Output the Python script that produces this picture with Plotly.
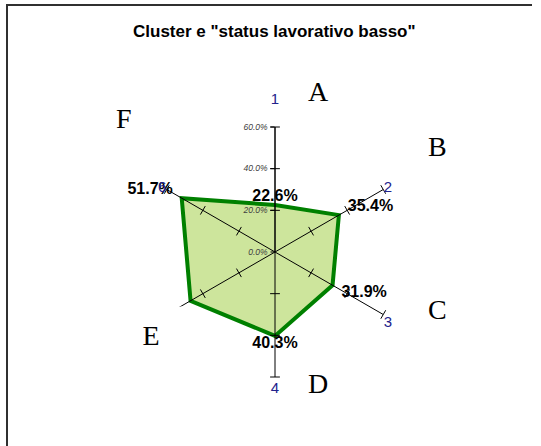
import plotly.graph_objects as go

# ---- data ----
categories = ["1", "2", "3", "4", "5", "6"]
axis_labels = ["1<br> ", "2", "3", "4", "", "6"]
values = [0.226, 0.354, 0.319, 0.403, 0.468, 0.517]
value_labels = ["22.6%", "\u00a0\u00a035.4%", "\u00a0\u00a031.9%", "40.3%", "", "51.7%\u00a0\u00a0"]
label_positions = ["top center", "top right", "bottom right", "bottom center", "middle left", "top left"]
radial_ticks = [0.0, 0.2, 0.4, 0.6]
letters = ["A", "B", "C", "D", "F"]
letter_px = [(318, 91), (437, 146), (437, 309), (318, 383), (124, 118)]
title_text = 'Cluster e "status lavorativo basso"'

W, H = 541, 446
r_max = radial_ticks[-1]

fig = go.Figure()

# filled polygon
fig.add_trace(go.Scatterpolar(
    r=values + values[:1],
    theta=categories + categories[:1],
    mode="lines",
    fill="toself",
    fillcolor="#CDE59C",
    line=dict(color="#008000", width=4),
    hoverinfo="skip",
    showlegend=False,
))

# spokes drawn above the fill
spoke_r, spoke_t = [], []
for c in categories:
    spoke_r += [0, r_max, None]
    spoke_t += [c, c, None]
fig.add_trace(go.Scatterpolar(
    r=spoke_r, theta=spoke_t, mode="lines",
    line=dict(color="black", width=1),
    hoverinfo="skip", showlegend=False, connectgaps=False,
))

# tick marks on spokes
tick_r, tick_t, tick_a = [], [], []
for i, c in enumerate(categories):
    for rv in radial_ticks[1:]:
        tick_r.append(rv)
        tick_t.append(c)
        tick_a.append(i * 60)
fig.add_trace(go.Scatterpolar(
    r=tick_r, theta=tick_t, mode="markers",
    marker=dict(symbol="line-ew", size=7, angle=tick_a,
                line=dict(color="black", width=1)),
    hoverinfo="skip", showlegend=False,
))

# data labels
fig.add_trace(go.Scatterpolar(
    r=values, theta=categories, mode="text",
    text=value_labels, textposition=label_positions,
    textfont=dict(family="Liberation Sans, Arial", size=16, color="black", weight="bold"),
    hoverinfo="skip", showlegend=False,
))

fig.update_layout(
    width=W, height=H,
    margin=dict(l=0, r=0, t=0, b=0),
    paper_bgcolor="white",
    plot_bgcolor="white",
    showlegend=False,
    polar=dict(
        domain=dict(x=[150 / W, 400 / W], y=[69 / H, 319 / H]),
        bgcolor="rgba(0,0,0,0)",
        radialaxis=dict(
            range=[0, r_max], tickvals=radial_ticks, tickformat=".1%",
            angle=90, tickangle=90, showline=True, linecolor="black", linewidth=1,
            showgrid=False, ticks="outside", ticklen=4, tickcolor="black",
            tickfont=dict(family="Liberation Sans, Arial", size=8.5, color="#404040", style="italic"),
            side="counterclockwise", layer="above traces",
        ),
        angularaxis=dict(
            type="category", categoryarray=categories,
            rotation=90, direction="clockwise",
            tickmode="array", tickvals=categories, ticktext=axis_labels,
            showline=False, showgrid=False,
            ticks="", layer="above traces",
            tickfont=dict(family="Liberation Sans, Arial", size=15, color="#22228C"),
        ),
    ),
)

# title
fig.add_annotation(
    x=274 / W, y=1 - 32 / H, xref="paper", yref="paper",
    text=title_text, showarrow=False, xanchor="center", yanchor="middle",
    font=dict(family="Liberation Sans, Arial", size=17, color="black", weight="bold"),
)

# letters
for t, (px, py) in zip(letters, letter_px):
    fig.add_annotation(
        x=px / W, y=1 - py / H, xref="paper", yref="paper",
        text=t, showarrow=False, xanchor="center", yanchor="middle",
        font=dict(family="Liberation Serif, Times New Roman", size=28, color="black"),
    )

# E sits in a white text box that hides the outer part of spoke 5
fig.add_annotation(
    x=113 / W, y=1 - 306 / H, xref="paper", yref="paper",
    text="E", showarrow=False, xanchor="left", yanchor="top",
    width=74, height=56, bgcolor="white", borderpad=0,
    font=dict(family="Liberation Serif, Times New Roman", size=28, color="black"),
)

# frame (top and left edges)
fig.add_shape(type="line", xref="paper", yref="paper",
              x0=6 / W, x1=532 / W, y0=1 - 5 / H, y1=1 - 5 / H,
              line=dict(color="#303030", width=2))
fig.add_shape(type="line", xref="paper", yref="paper",
              x0=7 / W, x1=7 / W, y0=1 - 5 / H, y1=0,
              line=dict(color="#303030", width=2))

fig.write_html("out.html", config={"displayModeBar": False},
               post_script="document.body.style.margin='0px';")
